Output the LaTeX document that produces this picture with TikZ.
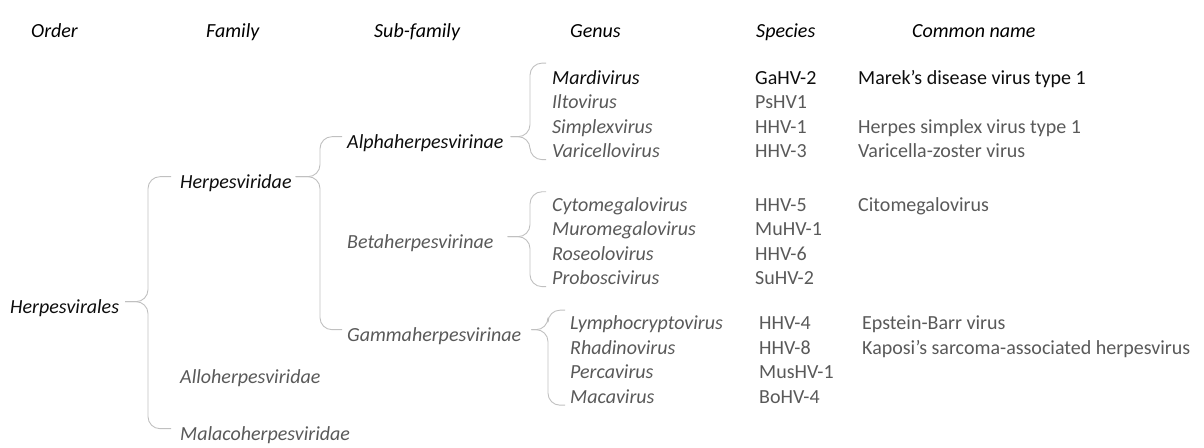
\documentclass[tikz,border=0pt]{standalone}
\usepackage{fontspec}
\setmainfont{Carlito}
\usetikzlibrary{calc}
\definecolor{txtgray}{HTML}{595959}
\definecolor{txtdark}{HTML}{0D0D0D}
\definecolor{linegray}{HTML}{C0C0C0}
\begin{document}
\begin{tikzpicture}[x=1pt,y=-1pt,
  lbl/.style={anchor=base west, inner sep=0pt, font=\fontsize{20}{24}\selectfont, text=txtgray},
  itl/.style={lbl, font=\fontsize{20}{24}\selectfont\itshape},
  dark/.style={text=txtdark},
  hdr/.style={itl, text=black},
  brace/.style={draw=linegray, line width=0.9pt, rounded corners=12pt}]
\useasboundingbox (0,0) rectangle (1204,447);
% headers
\node[hdr] (hOrder) at (31,37) {Order};
\node[hdr] (hFam) at (206,37) {Family};
\node[hdr] (hSub) at (374,37) {Sub-family};
\node[hdr] (hGen) at (570,37) {Genus};
\node[hdr] (hSp) at (756,37) {Species};
\node[hdr] (hCom) at (912,37) {Common name};
% order / family
\node[itl,dark] (hv) at (10,313) {Herpesvirales};
\node[itl,dark] (hd) at (180,188) {Herpesviridae};
\node[itl] (allo) at (180,383) {Alloherpesviridae};
\node[itl] (mala) at (180,440) {Malacoherpesviridae};
% sub-families
\node[itl,dark] (alpha) at (347,148) {Alphaherpesvirinae};
\node[itl] (beta) at (347,248) {Betaherpesvirinae};
\node[itl] (gamma) at (347,341) {Gammaherpesvirinae};
% genera alpha
\node[itl,dark] (g1) at (552,84) {Mardivirus};
\node[itl] (g2) at (552,108.5) {Iltovirus};
\node[itl] (g3) at (552,133) {Simplexvirus};
\node[itl] (g4) at (552,157.5) {Varicellovirus};
% genera beta
\node[itl] (g5) at (552,211) {Cytomegalovirus};
\node[itl] (g6) at (552,235.5) {Muromegalovirus};
\node[itl] (g7) at (552,260) {Roseolovirus};
\node[itl] (g8) at (552,284.5) {Proboscivirus};
% genera gamma
\node[itl] (g9) at (570,329.5) {Lymphocryptovirus};
\node[itl] (g10) at (570,354) {Rhadinovirus};
\node[itl] (g11) at (570,378.5) {Percavirus};
\node[itl] (g12) at (570,403) {Macavirus};
% species
\node[lbl,dark] (s1) at (755,84) {GaHV-2};
\node[lbl] (s2) at (755,108.5) {PsHV1};
\node[lbl] (s3) at (755,133) {HHV-1};
\node[lbl] (s4) at (755,157.5) {HHV-3};
\node[lbl] (s5) at (755,211) {HHV-5};
\node[lbl] (s6) at (755,235.5) {MuHV-1};
\node[lbl] (s7) at (755,260) {HHV-6};
\node[lbl] (s8) at (755,284.5) {SuHV-2};
\node[lbl] (s9) at (759,329.5) {HHV-4};
\node[lbl] (s10) at (759,354) {HHV-8};
\node[lbl] (s11) at (759,378.5) {MusHV-1};
\node[lbl] (s12) at (759,403) {BoHV-4};
% common names
\node[lbl,dark] (c1) at (858,84) {Marek’s disease virus type 1};
\node[lbl] (c3) at (858,133) {Herpes simplex virus type 1};
\node[lbl] (c4) at (858,157.5) {Varicella-zoster virus};
\node[lbl] (c5) at (858,211) {Citomegalovirus};
\node[lbl] (c9) at (862,329.5) {Epstein-Barr virus};
\node[lbl] (c10) at (862,354) {Kaposi’s sarcoma-associated herpesvirus};
% vertical lines of braces
\coordinate (v0) at (148,0);
\coordinate (v1) at (320,0);
\coordinate (v2) at (530,0);
\coordinate (v3) at (548,0);
% brace: Herpesvirales
\coordinate (m0) at ($(hv.east)+(6,-6)$);
\draw[brace] (m0) -- (m0 -| v0) |- ($(hd.west)+(-9,-6)$);
\draw[brace] (m0) -- (m0 -| v0) |- ($(mala.west)+(-9,-6)$);
\draw[brace] ($(allo.west)+(-9,-6)$) -- ($(allo.west)+(-9,-6)$ -| v0);
% brace: Herpesviridae
\coordinate (m1) at ($(hd.east)+(4,-6)$);
\draw[brace] (m1) -- (m1 -| v1) |- ($(alpha.west)+(-5,-6)$);
\draw[brace] (m1) -- (m1 -| v1) |- ($(gamma.west)+(-5,-6)$);
\draw[brace] ($(beta.west)+(-5,-6)$) -- ($(beta.west)+(-5,-6)$ -| v1);
% brace: Alpha
\coordinate (m2) at ($(alpha.east)+(7,-6)$);
\draw[brace] (m2) -- (m2 -| v2) |- ($(g1.west)+(-6,-14)$);
\draw[brace] (m2) -- (m2 -| v2) |- ($(g4.west)+(-6,9)$);
% brace: Beta
\coordinate (m3) at ($(beta.east)+(14,-6)$);
\draw[brace] (m3) -- (m3 -| v2) |- ($(g5.west)+(-6,-14)$);
\draw[brace] (m3) -- (m3 -| v2) |- ($(g8.west)+(-6,9)$);
% brace: Gamma
\coordinate (m4) at ($(gamma.east)+(10,-6)$);
\draw[brace] (m4) -- (m4 -| v3) |- ($(g9.west)+(-5,-14)$);
\draw[brace] (m4) -- (m4 -| v3) |- ($(g12.west)+(-5,9)$);
\end{tikzpicture}
\end{document}
